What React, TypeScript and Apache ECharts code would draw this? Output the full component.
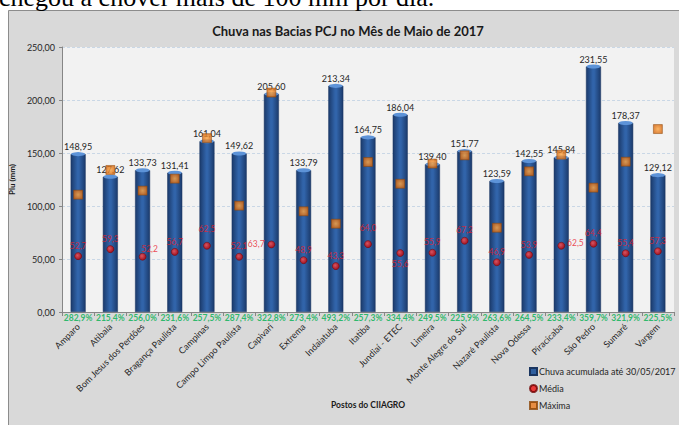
import React, { useEffect, useRef } from "react";
import * as echarts from "echarts";

const categories = [
  "Amparo", "Atibaia", "Bom Jesus dos Perdões", "Bragança Paulista", "Campinas",
  "Campo Limpo Paulista", "Capivari", "Extrema", "Indaiatuba", "Itatiba",
  "Jundiaí - ETEC", "Limeira", "Monte Alegre do Sul", "Nazaré Paulista", "Nova Odessa",
  "Piracicaba", "São Pedro", "Sumaré", "Vargem",
];
const chuvaAcumulada = [
  148.95, 127.62, 133.73, 131.41, 161.04, 149.62, 205.6, 133.79, 213.34, 164.75,
  186.04, 139.4, 151.77, 123.59, 142.55, 145.84, 231.55, 178.37, 129.12,
];
const media = [
  52.7, 59.3, 52.2, 56.7, 62.5, 52.1, 63.7, 48.9, 43.3, 64.0,
  55.6, 55.9, 67.2, 46.9, 53.9, 62.5, 64.4, 55.4, 57.3,
];
const maxima = [
  110.7, 134.0, 114.5, 125.8, 164.0, 100.3, 207.0, 95.0, 83.3, 141.5,
  121.0, 140.0, 147.8, 79.5, 132.7, 148.4, 117.3, 141.8, 172.6,
];
const percentuais = [
  282.9, 215.4, 256.0, 231.6, 257.5, 287.4, 322.8, 273.4, 493.2, 257.3,
  334.4, 249.5, 225.9, 263.6, 264.5, 233.4, 359.7, 321.9, 225.5,
];
const yTicks = { min: 0, max: 250, interval: 50 };

const FONT = "Lato, 'Open Sans', sans-serif";
const comma = (v: number, d: number) => v.toFixed(d).replace(".", ",");

export default function App() {
  const ref = useRef<HTMLDivElement>(null);
  useEffect(() => {
    if (!ref.current) return;
    const chart = echarts.init(ref.current, null, { renderer: "svg" });

    const mediaLabelOverrides: Record<number, any> = {
      2: { position: "top", offset: [7, 3] },
      4: { distance: 8 },
      6: { position: "left", distance: 3 },
      9: { distance: 8 },
      10: { position: "bottom", distance: 3 },
      15: { position: "right", distance: 2, offset: [0, -3] },
    };

    const barGradient = new echarts.graphic.LinearGradient(0, 0, 1, 0, [
      { offset: 0, color: "#1b3a6b" },
      { offset: 0.45, color: "#3164aa" },
      { offset: 0.55, color: "#3164aa" },
      { offset: 1, color: "#1b3a6b" },
    ]);

    const option: any = {
      animation: false,
      backgroundColor: "#ffffff",
      textStyle: { fontFamily: FONT },
      graphic: [
        {
          type: "rect",
          z: -100,
          shape: { x: 8.5, y: 10.5, width: 700, height: 450 },
          style: { fill: "#d9d9d9", stroke: "#8c8c8c", lineWidth: 1 },
        },
        {
          type: "text",
          z: -50,
          x: -1,
          y: -2.5,
          style: {
            text: "chegou a chover mais de 100 mm por dia.",
            font: "26px 'Liberation Serif', 'Times New Roman', serif",
            fill: "#000000",
            verticalAlign: "middle",
          },
        },
      ],
      title: {
        text: "Chuva nas Bacias PCJ no Mês de Maio de 2017",
        left: 343,
        textAlign: "center",
        top: 19,
        textStyle: { fontFamily: FONT, fontSize: 13, fontWeight: "bold", color: "#1a1a1a" },
      },
      legend: {
        orient: "vertical",
        left: 524,
        top: 362,
        itemWidth: 7,
        itemHeight: 7,
        itemGap: 8,
        textStyle: { fontFamily: FONT, fontSize: 9, color: "#262626", padding: [0, 0, 0, -3] },
        data: [
          { name: "Chuva acumulada até 30/05/2017", icon: "rect", itemStyle: { color: "#2f5f9f" } },
          { name: "Média", icon: "circle", itemStyle: { color: "#ee1111" } },
          { name: "Máxima", icon: "rect", itemStyle: { color: "#e8791c" } },
        ],
      },
      grid: {
        left: 60,
        top: 47,
        right: 5,
        bottom: 113,
        show: true,
        backgroundColor: "#f2f2f2",
        borderWidth: 0,
      },
      xAxis: {
        type: "category",
        data: categories,
        name: "Postos do CIIAGRO",
        nameLocation: "middle",
        nameGap: 85,
        nameTextStyle: { fontFamily: FONT, fontSize: 8.5, fontWeight: "bold", color: "#1a1a1a" },
        axisLine: { lineStyle: { color: "#868686" } },
        axisTick: { show: true, length: 4, lineStyle: { color: "#868686" } },
        axisLabel: {
          rotate: 45,
          interval: 0,
          margin: 13,
          fontFamily: FONT,
          fontSize: 9,
          color: "#262626",
        },
      },
      yAxis: {
        type: "value",
        min: yTicks.min,
        max: yTicks.max,
        interval: yTicks.interval,
        name: "Plu (mm)",
        nameLocation: "middle",
        nameGap: 38,
        nameTextStyle: { fontFamily: FONT, fontSize: 8, fontWeight: "bold", color: "#1a1a1a" },
        axisLine: { show: true, lineStyle: { color: "#868686" } },
        axisTick: { show: true, length: 3, lineStyle: { color: "#868686" } },
        axisLabel: {
          fontFamily: FONT,
          fontSize: 9,
          color: "#262626",
          margin: 7,
          formatter: (v: number) => comma(v, 2),
        },
        splitLine: { lineStyle: { color: "#c9d7e6", type: [3, 2], width: 1 } },
      },
      series: [
        {
          name: "Chuva acumulada até 30/05/2017",
          type: "bar",
          data: chuvaAcumulada,
          barWidth: 15,
          z: 2,
          itemStyle: { color: barGradient, borderColor: "#1a3560", borderWidth: 0.5 },
          label: {
            show: true,
            position: "top",
            distance: 3,
            fontFamily: FONT,
            fontSize: 9,
            color: "#262626",
            formatter: (p: any) => comma(p.value, 2),
          },
        },
        {
          name: "cap",
          type: "pictorialBar",
          data: chuvaAcumulada,
          symbol: "circle",
          symbolSize: [14, 4],
          symbolPosition: "end",
          symbolOffset: [0, "-50%"],
          z: 3,
          silent: true,
          itemStyle: { color: "#5d93d8" },
        },
        {
          name: "Máxima",
          type: "scatter",
          data: maxima,
          symbol: "rect",
          symbolSize: 9,
          z: 5,
          itemStyle: {
            color: new echarts.graphic.RadialGradient(0.5, 0.5, 0.6, [
              { offset: 0, color: "#ffa640" },
              { offset: 1, color: "#d2600a" },
            ]),
            borderColor: "#8a4405",
            borderWidth: 0.6,
          },
        },
        {
          name: "Média",
          type: "scatter",
          data: media.map((v, i) => ({
            value: v,
            label: mediaLabelOverrides[i] ? { ...mediaLabelOverrides[i] } : undefined,
          })),
          symbol: "circle",
          symbolSize: 7,
          z: 6,
          itemStyle: {
            color: new echarts.graphic.RadialGradient(0.4, 0.4, 0.6, [
              { offset: 0, color: "#ff5050" },
              { offset: 1, color: "#c00000" },
            ]),
            borderColor: "#700000",
            borderWidth: 0.6,
          },
          label: {
            show: true,
            position: "top",
            distance: 2,
            fontFamily: FONT,
            fontSize: 8.5,
            color: "#e8202a",
            formatter: (p: any) => comma(p.value, 1),
          },
        },
        {
          name: "pct",
          type: "scatter",
          data: percentuais.map(() => 0),
          symbolSize: 2,
          silent: true,
          clip: false,
          z: 7,
          itemStyle: { color: "rgba(0,0,0,0)" },
          label: {
            show: true,
            position: "bottom",
            distance: 0,
            fontFamily: FONT,
            fontSize: 8.5,
            fontWeight: "bold",
            color: "#00b050",
            formatter: (p: any) => comma(percentuais[p.dataIndex], 1) + "%",
          },
        },
      ],
    };
    chart.setOption(option);
    return () => chart.dispose();
  }, []);
  return (
    <div
      ref={ref}
      style={{ position: "fixed", left: 0, top: 0, width: 679, height: 425, background: "#fff" }}
    />
  );
}
